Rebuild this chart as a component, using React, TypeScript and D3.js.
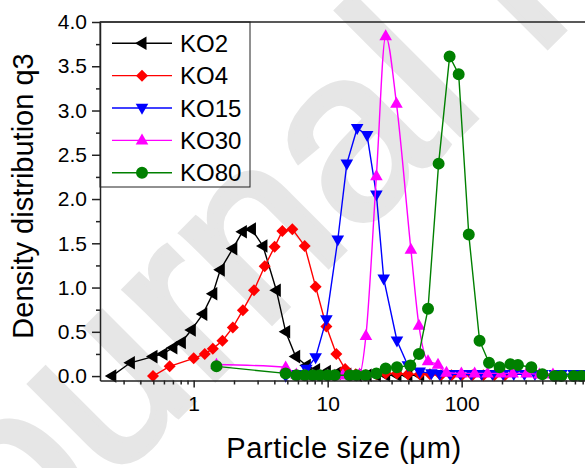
import React, { useEffect, useRef } from 'react';
import * as d3 from 'd3';

// particle size (um) / density distribution q3
const ko2X = [0.245, 0.337, 0.497, 0.59, 0.70, 0.81, 0.96, 1.17, 1.39, 1.58, 1.96, 2.31, 2.70, 3.29, 4.14, 4.86, 5.77, 6.93, 8.13, 9.78, 11.6, 13.9, 16.6, 19.7, 23.1, 27.1, 32.9, 39.7, 48.6];
const ko2Y = [0.0, 0.15, 0.22, 0.25, 0.32, 0.38, 0.52, 0.70, 0.93, 1.20, 1.44, 1.63, 1.66, 1.47, 0.97, 0.50, 0.22, 0.12, 0.07, 0.05, 0.03, 0.02, 0.01, 0.01, 0.01, 0.01, 0.01, 0.01, 0.01];

const ko4X = [0.497, 0.662, 1.0, 1.21, 1.39, 1.64, 1.96, 2.33, 2.82, 3.39, 4.02, 4.59, 5.45, 6.74, 8.13, 9.78, 11.6, 13.5, 16.2, 19.3, 23.1, 27.1, 32.9, 39.7, 48.6, 58, 70, 84, 100, 120, 145, 175, 210];
const ko4Y = [0.0, 0.11, 0.20, 0.25, 0.31, 0.40, 0.55, 0.745, 0.97, 1.24, 1.46, 1.64, 1.66, 1.47, 1.01, 0.56, 0.25, 0.08, 0.02, 0.01, 0.02, 0.03, 0.03, 0.02, 0.02, 0.02, 0.01, 0.01, 0.01, 0.01, 0.01, 0.01, 0.01];

const ko15X = [4.86, 5.77, 6.93, 8.13, 9.78, 11.9, 13.9, 16.6, 19.7, 23.1, 26.2, 32.9, 39.7, 48.6, 59.4, 68.5, 82, 98, 118, 141, 170, 204, 245, 294, 352, 400, 494, 555, 685, 782, 1000];
const ko15Y = [0.0, 0.02, 0.08, 0.21, 0.64, 1.54, 2.40, 2.80, 2.72, 2.05, 1.10, 0.40, 0.12, 0.05, 0.03, 0.02, 0.02, 0.02, 0.02, 0.02, 0.02, 0.02, 0.02, 0.02, 0.02, 0.02, 0.02, 0.02, 0.02, 0.02, 0.02];

const ko30X = [1.48, 4.86, 5.84, 6.74, 7.73, 8.71, 10.0, 11.3, 13.0, 15.0, 17.3, 19.3, 23.1, 27.1, 32.6, 41.8, 48.0, 56.1, 66.6, 77, 99.5, 125, 156, 197, 240, 305, 380, 480];
const ko30Y = [0.13, 0.10, 0.02, 0.01, 0.01, 0.01, 0.01, 0.01, 0.01, 0.01, 0.02, 0.455, 2.26, 3.84, 3.08, 1.43, 0.57, 0.17, 0.13, 0.04, 0.03, 0.03, 0.03, 0.03, 0.03, 0.03, 0.02, 0.02];

const ko80X = [1.48, 4.86, 5.84, 6.74, 7.73, 8.71, 10.0, 11.3, 14.6, 16.4, 19.2, 23.1, 27.1, 32.9, 41.4, 48.0, 56.1, 67.3, 81.3, 95.0, 113, 136, 160, 192, 231, 263, 331, 400, 494, 555, 685, 782, 1000];
const ko80Y = [0.11, 0.03, 0.01, 0.01, 0.01, 0.01, 0.01, 0.01, 0.01, 0.01, 0.01, 0.03, 0.085, 0.10, 0.12, 0.25, 0.76, 2.40, 3.61, 3.41, 1.60, 0.40, 0.15, 0.10, 0.135, 0.125, 0.10, 0.02, 0.0, 0.0, 0.0, 0.0, 0.0];

const seriesNames = ['KO2', 'KO4', 'KO15', 'KO30', 'KO80'];
const seriesColors = ['#000000', '#ff0000', '#0000ff', '#ff00ff', '#008000'];
const seriesMarkers = ['triLeft', 'diamond', 'triDown', 'triUp', 'circle'];

const xMajor = [1, 10, 100];
const yMajor = [0, 0.5, 1, 1.5, 2, 2.5, 3, 3.5, 4];

const FONT = '"Liberation Sans", Arial, sans-serif';

function markerPath(kind: string) {
  switch (kind) {
    case 'triLeft': return 'M-7,0L4.5,-6.8L4.5,6.8Z';
    case 'triDown': return 'M-6.3,-4.2L6.3,-4.2L0,6.8Z';
    case 'triUp': return 'M-6.3,4.2L6.3,4.2L0,-6.8Z';
    case 'diamond': return 'M0,-6L6,0L0,6L-6,0Z';
    default: return d3.symbol(d3.symbolCircle, 113)() as string;
  }
}

const App = () => {
  const ref = useRef<SVGSVGElement>(null);

  useEffect(() => {
    const svg = d3.select(ref.current);
    svg.selectAll('*').remove();

    const width = 585;
    const height = 468;
    const left = 100;
    const top = 22;
    const bottom = 380.5;

    const x = d3.scaleLog().domain([0.2, 2000]).range([left, left + 536]);
    const y = d3.scaleLinear().domain([-0.05, 4.0]).range([bottom, top]);

    svg.attr('width', width).attr('height', height);

    // faint watermark behind the plot
    svg.append('text')
      .attr('transform', 'translate(-70,664) rotate(-45)')
      .attr('font-family', FONT)
      .attr('font-size', 240)
      .attr('fill', '#e6e6e6')
      .attr('stroke', '#e6e6e6')
      .attr('stroke-width', 6)
      .text('Journal Pre-proof');

    const data = [
      [ko2X, ko2Y], [ko4X, ko4Y], [ko15X, ko15Y], [ko30X, ko30Y], [ko80X, ko80Y],
    ];

    const plot = svg.append('g');
    data.forEach(([xs, ys], i) => {
      const pts = xs.map((v, j) => [v, ys[j]] as [number, number]);
      const line = d3.line<[number, number]>()
        .x(d => x(d[0]))
        .y(d => y(d[1]))
        .curve(i === 3 ? d3.curveMonotoneX : d3.curveLinear);
      plot.append('path')
        .attr('d', line(pts))
        .attr('fill', 'none')
        .attr('stroke', seriesColors[i])
        .attr('stroke-width', 1.4);
      plot.selectAll(null)
        .data(pts)
        .enter()
        .append('path')
        .attr('d', markerPath(seriesMarkers[i]))
        .attr('transform', d => `translate(${x(d[0])},${y(d[1])})`)
        .attr('fill', seriesColors[i]);
    });

    // axes
    const minorX: number[] = [];
    [0.1, 1, 10, 100, 1000].forEach(d => {
      for (let k = 2; k <= 9; k++) minorX.push(d * k);
    });
    const minorY = d3.range(0.25, 4, 0.5);

    const xAxis = svg.append('g')
      .attr('transform', `translate(0,${bottom})`)
      .call(d3.axisBottom(x).tickValues(xMajor).tickFormat(d3.format('d')).tickSize(7).tickSizeOuter(0).tickPadding(9));
    svg.append('g')
      .attr('transform', `translate(0,${bottom})`)
      .call(d3.axisBottom(x).tickValues(minorX.filter(v => v > 0.2)).tickFormat(() => '').tickSize(4).tickSizeOuter(0))
      .select('.domain').remove();

    const yAxis = svg.append('g')
      .attr('transform', `translate(${left},0)`)
      .call(d3.axisLeft(y).tickValues(yMajor).tickFormat(d3.format('.1f')).tickSize(8).tickSizeOuter(0).tickPadding(5));
    svg.append('g')
      .attr('transform', `translate(${left},0)`)
      .call(d3.axisLeft(y).tickValues(minorY).tickFormat(() => '').tickSize(4).tickSizeOuter(0))
      .select('.domain').remove();

    [xAxis, yAxis].forEach(g => {
      g.selectAll('text').attr('font-family', FONT).attr('font-size', 21).attr('fill', '#000');
    });
    svg.selectAll('.domain, .tick line').attr('stroke', '#222').attr('stroke-width', 1.5);

    svg.append('line')
      .attr('x1', left).attr('x2', width)
      .attr('y1', top).attr('y2', top)
      .attr('stroke', '#222').attr('stroke-width', 1.5);

    // legend
    const legend = svg.append('g');
    legend.append('rect')
      .attr('x', left).attr('y', top)
      .attr('width', 150).attr('height', 165)
      .attr('fill', 'none').attr('stroke', '#222').attr('stroke-width', 1);
    seriesNames.forEach((name, i) => {
      const cy = 43.3 + i * 32.35;
      legend.append('line')
        .attr('x1', 112).attr('x2', 172).attr('y1', cy).attr('y2', cy)
        .attr('stroke', seriesColors[i]).attr('stroke-width', 1.4);
      legend.append('path')
        .attr('d', markerPath(seriesMarkers[i]))
        .attr('transform', `translate(142,${cy})`)
        .attr('fill', seriesColors[i]);
      legend.append('text')
        .attr('x', 180).attr('y', cy).attr('dy', '0.36em')
        .attr('font-family', FONT).attr('font-size', 24)
        .text(name);
    });

    // axis titles
    svg.append('text')
      .attr('transform', 'translate(33,196) rotate(-90)')
      .attr('text-anchor', 'middle')
      .attr('font-family', FONT).attr('font-size', 29)
      .text('Density distribution q3');
    svg.append('text')
      .attr('x', 344).attr('y', 458)
      .attr('text-anchor', 'middle')
      .attr('font-family', FONT).attr('font-size', 29)
      .attr('letter-spacing', 0.6)
      .text('Particle size (\u03bcm)');
  }, []);

  return <svg ref={ref} style={{ position: 'absolute', left: 0, top: 0 }} />;
};

export default App;
